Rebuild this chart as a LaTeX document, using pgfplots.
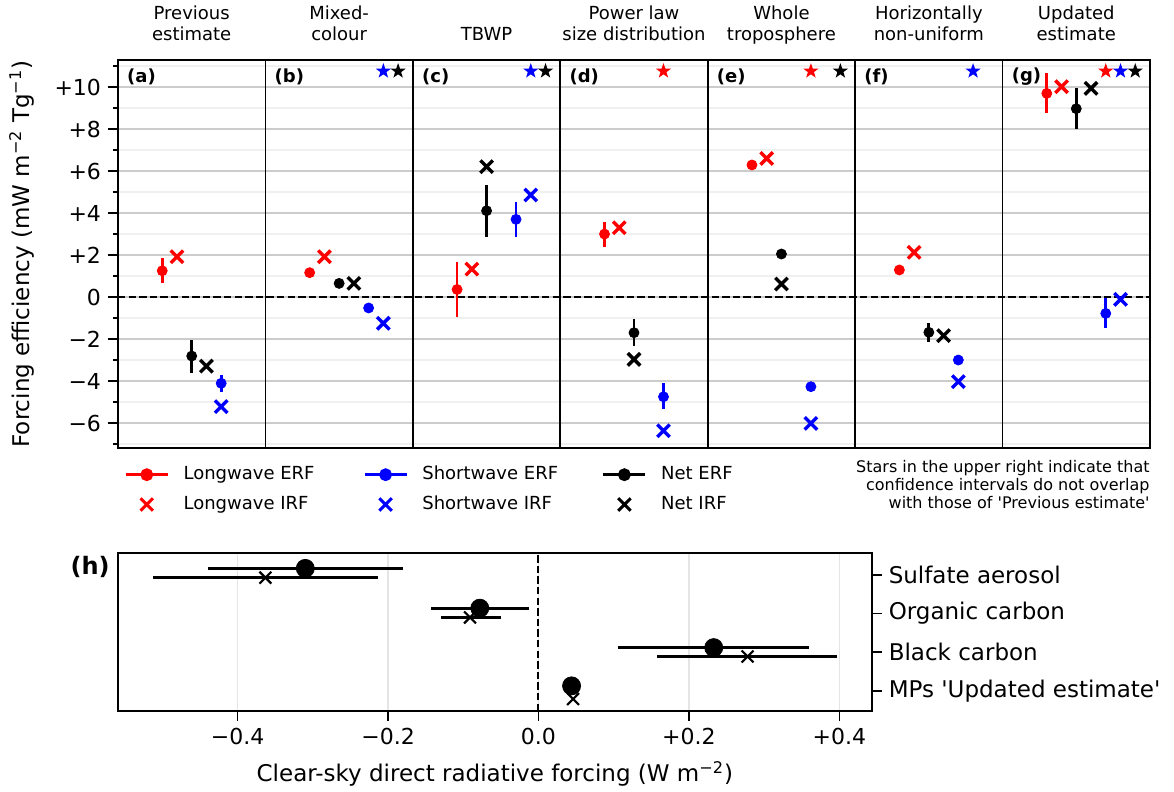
\documentclass[border=0pt]{standalone}
\usepackage{fontspec}
\setmainfont{DejaVu Sans}
\usepackage{pgfplots}
\pgfplotsset{compat=1.18}
\usetikzlibrary{plotmarks}

% filled five-pointed star
\pgfdeclareplotmark{fstar}{%
  \pgfpathmoveto{\pgfpointpolar{90}{\pgfplotmarksize}}%
  \pgfpathlineto{\pgfpointpolar{126}{0.4\pgfplotmarksize}}%
  \pgfpathlineto{\pgfpointpolar{162}{\pgfplotmarksize}}%
  \pgfpathlineto{\pgfpointpolar{198}{0.4\pgfplotmarksize}}%
  \pgfpathlineto{\pgfpointpolar{234}{\pgfplotmarksize}}%
  \pgfpathlineto{\pgfpointpolar{270}{0.4\pgfplotmarksize}}%
  \pgfpathlineto{\pgfpointpolar{306}{\pgfplotmarksize}}%
  \pgfpathlineto{\pgfpointpolar{342}{0.4\pgfplotmarksize}}%
  \pgfpathlineto{\pgfpointpolar{18}{\pgfplotmarksize}}%
  \pgfpathlineto{\pgfpointpolar{54}{0.4\pgfplotmarksize}}%
  \pgfpathclose\pgfusepathqfill}

\newcommand{\nf}{\fontsize{9}{10.8}\selectfont}
\newcommand{\lf}{\fontsize{11.5}{13.8}\selectfont}
\newcommand{\tf}{\fontsize{11}{13.2}\selectfont}

\pgfplotsset{
  erf/.style={only marks, color=#1, mark=*, mark size=2.5pt,
    mark options={draw=none, fill=#1},
    error bars/y dir=both, error bars/y explicit, error bars/error mark=none,
    error bars/error bar style={line width=1.4pt, #1}},
  irf/.style={only marks, color=#1, mark=x, mark size=4.4pt,
    mark options={line width=1.7pt, #1}},
  stars/.style={only marks, color=#1, mark=fstar, mark size=4pt,
    mark options={fill=#1}},
  erfleg/.style={#1, line width=1.4pt, mark=*, mark size=2.5pt,
    mark options={draw=none, fill=#1},
    legend image code/.code={\draw[mark repeat=2, mark phase=2, ##1]
      plot coordinates {(0pt,0pt) (10.5pt,0pt) (21pt,0pt)};}},
  irfleg/.style={#1, only marks, mark=x, mark size=4.4pt,
    mark options={line width=1.5pt},
    legend image code/.code={\draw[##1] plot coordinates {(10.5pt,0pt)};}},
}

\begin{document}
\begin{tikzpicture}
\useasboundingbox (-59pt,-172pt) rectangle (528pt,224pt);

\begin{axis}[
  name=top, at={(0pt,0pt)}, anchor=south west,
  scale only axis, width=516pt, height=194pt,
  xmin=0, xmax=7, ymin=-7.19, ymax=11.29,
  clip=false,
  xtick=\empty,
  ytick={-6,-4,-2,0,2,4,6,8,10},
  yticklabels={−6,−4,−2,0,+2,+4,+6,+8,+10},
  minor ytick={-7,-5,-3,-1,1,3,5,7,9,11},
  ytick pos=left, tick align=outside,
  major tick length=5pt, minor tick length=2.5pt,
  every tick/.style={black, line width=0.8pt},
  ymajorgrids, yminorgrids,
  major grid style={draw=black!20, line width=0.7pt},
  minor grid style={draw=black!6, line width=0.7pt},
  extra x ticks={1,2,3,4,5,6}, extra x tick labels={},
  extra x tick style={grid=major, major tick length=0pt,
    major grid style={draw=black, line width=0.9pt}},
  axis line style={line width=0.9pt},
  tick label style={font=\tf},
  label style={font=\lf},
  ylabel={Forcing efficiency (mW m\textsuperscript{−2} Tg\textsuperscript{−1})},
  ylabel style={at={(axis description cs:-0.093,0.5)}, anchor=center},
  legend columns=3, legend cell align=left,
  legend style={at={(axis description cs:0.0062,-0.0464)}, anchor=north west,
    draw=none, fill=none, inner sep=0pt, outer sep=0pt,
    column sep=0pt, row sep=6.2pt, font=\nf,
    nodes={inner sep=0pt, text height=6.8pt, text depth=1.9pt}},
]
\addlegendimage{erfleg=red}
\addlegendentry{\hspace*{7.2pt}\makebox[89.8pt][l]{Longwave ERF}}
\addlegendimage{erfleg=blue}
\addlegendentry{\hspace*{7.2pt}\makebox[89.8pt][l]{Shortwave ERF}}
\addlegendimage{erfleg=black}
\addlegendentry{\hspace*{7.2pt}\makebox[89.8pt][l]{Net ERF}}
\addlegendimage{irfleg=red}
\addlegendentry{\hspace*{7.2pt}\makebox[89.8pt][l]{Longwave IRF}}
\addlegendimage{irfleg=blue}
\addlegendentry{\hspace*{7.2pt}\makebox[89.8pt][l]{Shortwave IRF}}
\addlegendimage{irfleg=black}
\addlegendentry{\hspace*{7.2pt}\makebox[89.8pt][l]{Net IRF}}

\addplot[black, dashed, line width=1pt, dash pattern=on 3.7pt off 1.6pt, forget plot]
  coordinates {(0,0) (7,0)};

% Longwave
\addplot[erf=red, forget plot] coordinates {
  (0.30,1.25) += (0,0.59) -= (0,0.60)
  (1.30,1.16) += (0,0) -= (0,0)
  (2.30,0.36) += (0,1.29) -= (0,1.30)
  (3.30,3.00) += (0,0.56) -= (0,0.60)
  (4.30,6.29) += (0,0) -= (0,0)
  (5.30,1.29) += (0,0) -= (0,0)
  (6.30,9.70) += (0,0.95) -= (0,0.95)
};
\addplot[irf=red, forget plot] coordinates {
  (0.40,1.92) (1.40,1.92) (2.40,1.33) (3.40,3.30)
  (4.40,6.60) (5.40,2.13) (6.40,10.02)
};
% Net
\addplot[erf=black, forget plot] coordinates {
  (0.50,-2.81) += (0,0.76) -= (0,0.79)
  (1.50,0.65) += (0,0) -= (0,0)
  (2.50,4.11) += (0,1.21) -= (0,1.24)
  (3.50,-1.70) += (0,0.65) -= (0,0.63)
  (4.50,2.05) += (0,0) -= (0,0)
  (5.50,-1.68) += (0,0.43) -= (0,0.45)
  (6.50,8.97) += (0,0.97) -= (0,0.99)
};
\addplot[irf=black, forget plot] coordinates {
  (0.60,-3.29) (1.60,0.65) (2.50,6.21) (3.50,-2.97)
  (4.50,0.62) (5.60,-1.84) (6.60,9.94)
};
% Shortwave
\addplot[erf=blue, forget plot] coordinates {
  (0.70,-4.11) += (0,0.40) -= (0,0.43)
  (1.70,-0.52) += (0,0) -= (0,0)
  (2.70,3.70) += (0,0.81) -= (0,0.83)
  (3.70,-4.75) += (0,0.64) -= (0,0.58)
  (4.70,-4.27) += (0,0) -= (0,0)
  (5.70,-3.00) += (0,0) -= (0,0)
  (6.70,-0.78) += (0,0.72) -= (0,0.68)
};
\addplot[irf=blue, forget plot] coordinates {
  (0.70,-5.22) (1.80,-1.25) (2.80,4.86) (3.70,-6.37)
  (4.70,-6.02) (5.70,-4.03) (6.80,-0.11)
};
% significance stars
\addplot[stars=red, forget plot] coordinates {(3.70,10.76) (4.70,10.76) (6.70,10.76)};
\addplot[stars=blue, forget plot] coordinates {(1.80,10.76) (2.80,10.76) (5.80,10.76) (6.80,10.76)};
\addplot[stars=black, forget plot] coordinates {(1.90,10.76) (2.90,10.76) (4.90,10.76) (6.90,10.76)};

% panel letters
\node[anchor=west, inner sep=0pt, font=\nf\bfseries] at (axis cs:0.06,10.5) {(a)};
\node[anchor=west, inner sep=0pt, font=\nf\bfseries] at (axis cs:1.06,10.5) {(b)};
\node[anchor=west, inner sep=0pt, font=\nf\bfseries] at (axis cs:2.06,10.5) {(c)};
\node[anchor=west, inner sep=0pt, font=\nf\bfseries] at (axis cs:3.06,10.5) {(d)};
\node[anchor=west, inner sep=0pt, font=\nf\bfseries] at (axis cs:4.06,10.5) {(e)};
\node[anchor=west, inner sep=0pt, font=\nf\bfseries] at (axis cs:5.06,10.5) {(f)};
\node[anchor=west, inner sep=0pt, font=\nf\bfseries] at (axis cs:6.06,10.5) {(g)};

% column titles
\node[anchor=base, font=\nf, yshift=20pt] at (axis cs:0.5,11.29) {Previous};
\node[anchor=base, font=\nf, yshift=9.5pt] at (axis cs:0.5,11.29) {estimate};
\node[anchor=base, font=\nf, yshift=20pt] at (axis cs:1.5,11.29) {Mixed-};
\node[anchor=base, font=\nf, yshift=9.5pt] at (axis cs:1.5,11.29) {colour};
\node[anchor=base, font=\nf, yshift=9.5pt] at (axis cs:2.5,11.29) {TBWP};
\node[anchor=base, font=\nf, yshift=20pt] at (axis cs:3.5,11.29) {Power law};
\node[anchor=base, font=\nf, yshift=9.5pt] at (axis cs:3.5,11.29) {size distribution};
\node[anchor=base, font=\nf, yshift=20pt] at (axis cs:4.5,11.29) {Whole};
\node[anchor=base, font=\nf, yshift=9.5pt] at (axis cs:4.5,11.29) {troposphere};
\node[anchor=base, font=\nf, yshift=20pt] at (axis cs:5.5,11.29) {Horizontally};
\node[anchor=base, font=\nf, yshift=9.5pt] at (axis cs:5.5,11.29) {non-uniform};
\node[anchor=base, font=\nf, yshift=20pt] at (axis cs:6.5,11.29) {Updated};
\node[anchor=base, font=\nf, yshift=9.5pt] at (axis cs:6.5,11.29) {estimate};
\end{axis}

\node[anchor=north east, align=right, inner sep=0pt,
  font=\fontsize{8}{9.2}\selectfont] at ([yshift=-5.8pt]top.south east)
  {Stars in the upper right indicate that\\confidence intervals do not overlap\\with those of \textquotesingle Previous estimate\textquotesingle};

\begin{axis}[
  at={(0pt,-52.65pt)}, anchor=north west,
  scale only axis, width=376.85pt, height=78.85pt,
  xmin=-0.559, xmax=0.443, ymin=-0.52, ymax=3.56,
  clip=false,
  xtick={-0.4,-0.2,0,0.2,0.4},
  xticklabels={−0.4,−0.2,0.0,+0.2,+0.4},
  ytick={0,1,2,3},
  yticklabels={MPs \textquotesingle Updated estimate\textquotesingle, Black carbon, Organic carbon, Sulfate aerosol},
  xtick pos=bottom, ytick pos=right, yticklabel pos=right,
  tick align=outside, major tick length=5pt,
  every tick/.style={black, line width=0.8pt},
  xmajorgrids, major grid style={draw=black!10, line width=0.7pt},
  axis line style={line width=0.9pt},
  xticklabel style={font=\tf},
  yticklabel style={font=\lf},
  label style={font=\lf},
  xlabel={Clear-sky direct radiative forcing (W m\textsuperscript{−2})},
  xlabel style={at={(axis description cs:0.5,-0.45)}, anchor=base},
]
\addplot[black, dashed, line width=1pt, dash pattern=on 3.7pt off 1.6pt]
  coordinates {(0,-0.52) (0,3.56)};
\addplot[only marks, black, mark=*, mark size=4.5pt,
  error bars/x dir=both, error bars/x explicit, error bars/error mark=none,
  error bars/error bar style={line width=1.6pt}] coordinates {
  (-0.310,3.17) += (0.130,0) -= (0.129,0)
  (-0.078,2.14) += (0.066,0) -= (0.065,0)
  (0.233,1.12) += (0.127,0) -= (0.127,0)
  (0.044,0.13) += (0,0) -= (0,0)
};
\addplot[only marks, black, mark=x, mark size=4.2pt, mark options={line width=1.1pt},
  error bars/x dir=both, error bars/x explicit, error bars/error mark=none,
  error bars/error bar style={line width=1.6pt}] coordinates {
  (-0.363,2.93) += (0.150,0) -= (0.149,0)
  (-0.091,1.90) += (0.041,0) -= (0.039,0)
  (0.278,0.89) += (0.119,0) -= (0.120,0)
  (0.046,-0.21) += (0,0) -= (0,0)
};
\node[anchor=east, inner sep=0pt, font=\fontsize{12}{14}\selectfont\bfseries, xshift=-4pt] at (rel axis cs:0,0.913) {(h)};
\end{axis}
\end{tikzpicture}
\end{document}
